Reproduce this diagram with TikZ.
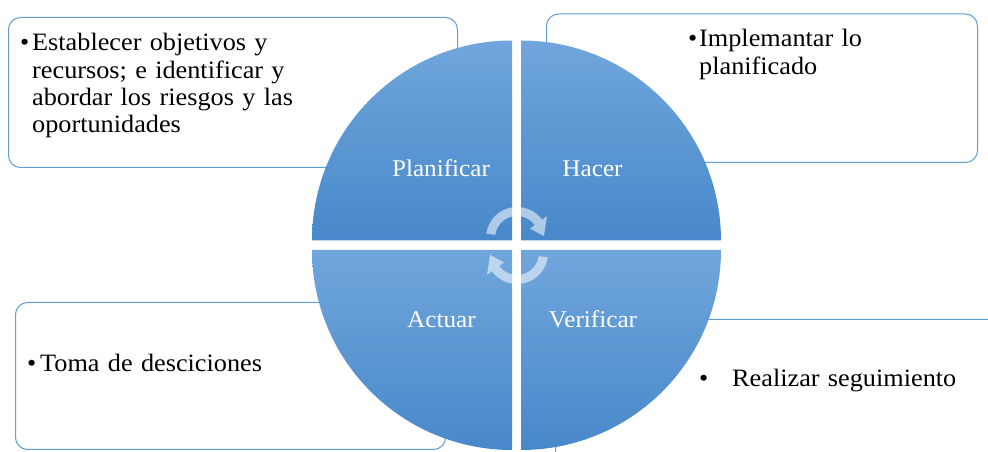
\documentclass[tikz,border=0pt]{standalone}
\usepackage{fontspec}
\setmainfont{Liberation Serif}[FakeStretch=1.05]
\definecolor{qtop}{RGB}{112,166,220}
\definecolor{qbot}{RGB}{72,136,202}
\definecolor{edgeblue}{RGB}{98,157,214}
\begin{document}
\begin{tikzpicture}[x=1pt,y=1pt,
  box/.style={draw=edgeblue, line width=1pt, rounded corners=12pt, fill=white,
              anchor=north west, inner sep=0},
  quad/.style={top color=qtop, bottom color=qbot, draw=none},
  qlabel/.style={text=white, font=\fontsize{24}{28}\selectfont, anchor=base, inner sep=0},
  btext/.style={font=\fontsize{25}{27.3}\selectfont, anchor=base west, inner sep=0,
                align=left, text width=400pt},
  bulletmark/.style={font=\fontsize{25}{27.3}\selectfont, anchor=base west, inner sep=0},
  cyc/.style={fill=white, fill opacity=0.55, draw=none}]
\useasboundingbox (0,0) rectangle (988,452);
\clip (0,0) rectangle (988,452);

% text boxes behind the cycle
\node[box, minimum width=449pt, minimum height=150pt]   (planbox)  at (8,435)    {};
\node[box, minimum width=431pt, minimum height=148.5pt] (hacerbox) at (546,438.5) {};
\node[box, minimum width=430pt, minimum height=147pt]   (actbox)   at (15,150)   {};
\node[box, minimum width=460pt, minimum height=160pt]   (verbox)   at (555,133)  {};

% box texts
\node[bulletmark] (planbul) at (20,401) {•};
\node[btext] (plantxt) at (32,401)
  {Establecer objetivos y\\recursos; e identificar y\\abordar los riesgos y las\\oportunidades};
\node[bulletmark] (hacerbul) at (688,405) {•};
\node[btext] (hacertxt) at (699,405) {Implemantar lo\\planificado};
\node[bulletmark] (actbul) at (27,80) {•};
\node[btext] (acttxt) at (40,80) {Toma de desciciones};
\node[bulletmark] (verbul) at (699,65) {•};
\node[btext] (vertxt) at (732,65) {Realizar seguimiento};

% four quarter discs
\shade[quad] (512,211.5) -- (312,211.5) arc[start angle=180, end angle=90, radius=200] -- cycle;
\shade[quad] (521,211.5) -- (721,211.5) arc[start angle=0, end angle=90, radius=200] -- cycle;
\shade[quad] (512,202) -- (312,202) arc[start angle=180, end angle=270, radius=200] -- cycle;
\shade[quad] (521,202) -- (721,202) arc[start angle=0, end angle=-90, radius=200] -- cycle;

% quadrant labels
\node[qlabel] (plan)  at (441,275) {Planificar};
\node[qlabel] (hacer) at (592.5,275) {Hacer};
\node[qlabel] (act)   at (441.5,124) {Actuar};
\node[qlabel] (ver)   at (593,124) {Verificar};

% circular arrows in the middle
\begin{scope}[shift={(517,214)}]
  \path[cyc] (172:31) arc[start angle=172, end angle=36, radius=31] -- (36:37) -- (4:27)
    -- (36:16) -- (36:22) arc[start angle=36, end angle=172, radius=22] -- cycle;
\end{scope}
\begin{scope}[rotate around={180:(517,206.5)}, shift={(517,214)}]
  \path[cyc] (172:31) arc[start angle=172, end angle=36, radius=31] -- (36:37) -- (4:27)
    -- (36:16) -- (36:22) arc[start angle=36, end angle=172, radius=22] -- cycle;
\end{scope}
\end{tikzpicture}
\end{document}
